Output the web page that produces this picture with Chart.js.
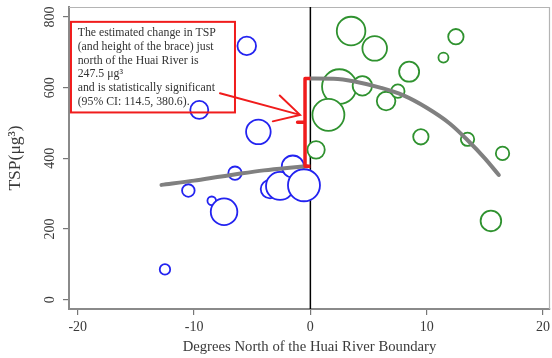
<!DOCTYPE html>
<html>
<head>
<meta charset="utf-8">
<script src="https://cdn.jsdelivr.net/npm/chart.js@4.4.1/dist/chart.umd.min.js"></script>
<style>
  html, body { margin: 0; padding: 0; background: #fff; }
  canvas { display: block; }
</style>
</head>
<body>
<canvas id="c" width="552" height="358"></canvas>
<script>
// City observations south of the Huai River (degrees north, TSP, city weight)
const southX = [-5.47, -9.55, -4.47, -6.48, -10.49, -8.48, -7.42, -12.5, -3.47, -2.61, -1.51, -0.55];
const southY = [718, 537, 475, 358, 309, 280, 249, 86, 313, 322, 377, 324];
const southW = [21.6, 20.3, 37.8, 11.2, 9.9, 4.6, 44.2, 6.8, 21.6, 49.0, 30.3, 64.0];

// City observations north of the Huai River
const northX = [3.5, 5.53, 2.49, 4.47, 1.55, 0.49, 6.51, 7.52, 8.49, 9.5, 12.51, 11.44, 13.51, 16.52, 15.52];
const northY = [760, 711, 603, 605, 523, 424, 562, 590, 645, 461, 744, 685, 454, 414, 223];
const northW = [51.1, 37.8, 74.8, 23.5, 64.0, 18.9, 21.6, 11.2, 25.0, 14.8, 14.8, 6.3, 11.2, 11.2, 26.5];

// Fitted TSP curves on each side of the boundary
const southFitX = [-12.8, -10, -8, -6, -4, -2, -0.3];
const southFitY = [325, 337, 347, 357, 366, 373, 378];
const northFitX = [0, 2, 4, 6, 8, 10, 12, 13.5, 15, 16.2];
const northFitY = [625.5, 625, 616, 600, 578, 543, 498, 452, 400, 353];

// Estimated discontinuity at the boundary
const jumpBase = 378;
const jumpSize = 247.5;

// Axis ticks and titles
const xTicks = [-20, -10, 0, 10, 20];
const yTicks = [0, 200, 400, 600, 800];
const xTitle = 'Degrees North of the Huai River Boundary';
const yTitle = 'TSP(\u03bcg\u00b3)';

const noteLines = [
  'The estimated change in TSP',
  '(and height of the brace) just',
  'north of the Huai River is',
  '247.5 \u03bcg\u00b3',
  'and is statistically significant',
  '(95% CI: 114.5, 380.6).'
];

const X_MIN = -20.75, X_MAX = 20.6, Y_MIN = -26, Y_MAX = 828;
const SERIF = "'Liberation Serif', 'Times New Roman', serif";
const RED = '#f01c1c';

const pts = (xs, ys) => xs.map((x, i) => ({ x, y: ys[i] }));
const bubbles = (xs, ys, ws) => xs.map((x, i) => ({ x, y: ys[i], r: 2 * Math.sqrt(ws[i]) }));

const braceX = -0.46, nibX = -1.1;
const braceTop = jumpBase + jumpSize;
const braceMid = jumpBase + jumpSize / 2;

// Thin outline along the top and right of the plot region
const framePlugin = {
  id: 'frame',
  beforeDatasetsDraw(chart) {
    const { ctx, chartArea: a } = chart;
    ctx.save();
    ctx.strokeStyle = '#b4b4b4';
    ctx.lineWidth = 1.2;
    ctx.beginPath();
    ctx.moveTo(a.left, a.top + 0.5);
    ctx.lineTo(a.right - 0.5, a.top + 0.5);
    ctx.lineTo(a.right - 0.5, a.bottom);
    ctx.stroke();
    ctx.restore();
  }
};

// Text note with arrow pointing at the brace
const notePlugin = {
  id: 'note',
  afterDatasetsDraw(chart) {
    const { ctx, scales: { x, y } } = chart;
    ctx.save();
    const bx = x.getPixelForValue(-20.58), by = y.getPixelForValue(786);
    const bw = 164, bh = 90.6;
    ctx.strokeStyle = RED;
    ctx.lineWidth = 2;
    ctx.strokeRect(bx, by, bw, bh);

    ctx.fillStyle = '#333';
    ctx.font = '11.8px ' + SERIF;
    ctx.textBaseline = 'middle';
    ctx.textAlign = 'left';
    noteLines.forEach((t, i) => ctx.fillText(t, bx + 6.7, by + 10.8 + i * 13.9));

    const x0 = x.getPixelForValue(-7.77), y0 = y.getPixelForValue(584);
    const x1 = x.getPixelForValue(-0.89), y1 = y.getPixelForValue(523);
    ctx.lineWidth = 2;
    ctx.lineCap = 'round';
    ctx.beginPath();
    ctx.moveTo(x0, y0);
    ctx.lineTo(x1, y1);
    const ang = Math.atan2(y0 - y1, x0 - x1);
    const head = 28, spread = 28.5 * Math.PI / 180;
    ctx.moveTo(x1 + head * Math.cos(ang + spread), y1 + head * Math.sin(ang + spread));
    ctx.lineTo(x1, y1);
    ctx.lineTo(x1 + head * Math.cos(ang - spread), y1 + head * Math.sin(ang - spread));
    ctx.stroke();
    ctx.restore();
  }
};

const tickFont = { family: SERIF, size: 14 };

new Chart(document.getElementById('c'), {
  type: 'scatter',
  data: {
    datasets: [
      {
        type: 'line',
        data: [{ x: 0, y: Y_MIN }, { x: 0, y: Y_MAX }],
        borderColor: '#000',
        borderWidth: 1.5,
        pointRadius: 0,
        order: 6
      },
      {
        type: 'bubble',
        data: bubbles(southX, southY, southW),
        borderColor: '#2323f0',
        backgroundColor: '#fff',
        borderWidth: 1.8,
        order: 5
      },
      {
        type: 'bubble',
        data: bubbles(northX, northY, northW),
        borderColor: '#2f922f',
        backgroundColor: '#fff',
        borderWidth: 1.8,
        order: 4
      },
      {
        type: 'line',
        data: pts(southFitX, southFitY),
        borderColor: '#808080',
        borderWidth: 4,
        borderCapStyle: 'round',
        cubicInterpolationMode: 'monotone',
        pointRadius: 0,
        order: 3
      },
      {
        type: 'line',
        data: pts(northFitX, northFitY),
        borderColor: '#808080',
        borderWidth: 4,
        borderCapStyle: 'round',
        cubicInterpolationMode: 'monotone',
        pointRadius: 0,
        order: 2
      },
      {
        type: 'line',
        data: [
          { x: 0, y: braceTop }, { x: braceX, y: braceTop },
          { x: braceX, y: braceMid }, { x: nibX, y: braceMid }, { x: braceX, y: braceMid },
          { x: braceX, y: jumpBase }, { x: 0, y: jumpBase }
        ],
        borderColor: RED,
        borderWidth: 3.5,
        borderJoinStyle: 'round',
        pointRadius: 0,
        tension: 0,
        order: 1
      }
    ]
  },
  options: {
    responsive: false,
    animation: false,
    devicePixelRatio: 1,
    layout: { autoPadding: false, padding: { top: 7, right: 2, left: 0, bottom: 0 } },
    plugins: { legend: { display: false }, tooltip: { enabled: false } },
    scales: {
      x: {
        type: 'linear',
        min: X_MIN,
        max: X_MAX,
        afterBuildTicks: s => { s.ticks = xTicks.map(v => ({ value: v })); },
        afterFit: s => { s.height = 49; s.paddingLeft = 0; s.paddingRight = 0; },
        grid: { drawOnChartArea: false, drawTicks: true, tickLength: 6, color: '#777', lineWidth: 1.2 },
        border: { display: true, color: '#8a8a8a', width: 2 },
        ticks: { font: tickFont, color: '#3a3a3a', padding: 4, maxRotation: 0, autoSkip: false },
        title: { display: true, text: xTitle, font: { family: SERIF, size: 14.7 }, color: '#3a3a3a', padding: { top: 0, bottom: 2 } }
      },
      y: {
        type: 'linear',
        min: Y_MIN,
        max: Y_MAX,
        afterBuildTicks: s => { s.ticks = yTicks.map(v => ({ value: v })); },
        afterFit: s => { s.width = 69; s.paddingTop = 0; s.paddingBottom = 0; },
        grid: { drawOnChartArea: false, drawTicks: true, tickLength: 6, color: '#777', lineWidth: 1.2 },
        border: { display: true, color: '#8a8a8a', width: 2 },
        ticks: { font: tickFont, color: '#3a3a3a', padding: 2, minRotation: 90, maxRotation: 90, crossAlign: 'center', autoSkip: false },
        title: { display: true, text: yTitle, font: { family: SERIF, size: 17.5 }, color: '#3a3a3a', padding: { top: 5, bottom: 0 } }
      }
    }
  },
  plugins: [framePlugin, notePlugin]
});
</script>
</body>
</html>
